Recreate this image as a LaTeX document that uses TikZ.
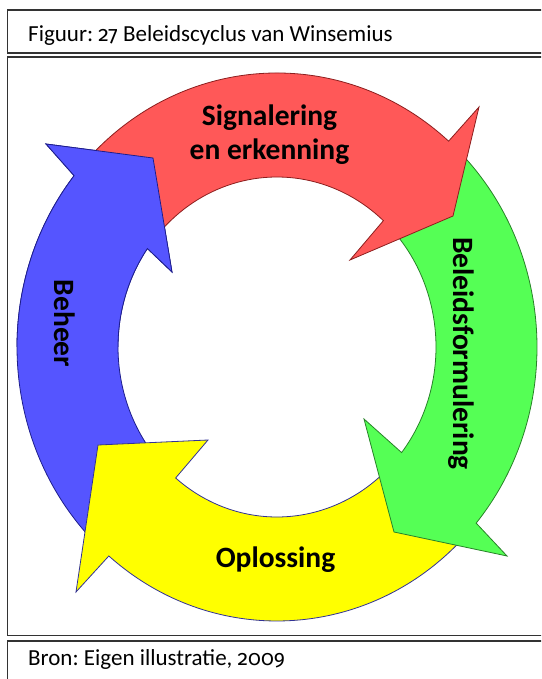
\documentclass[tikz,border=0pt]{standalone}
\usepackage{fontspec}
\setmainfont{Carlito}
\newfontfamily\figs{Fira Sans}[Numbers=OldStyle, Scale=0.92]
\newcommand\ofig[1]{{\figs #1}}
\definecolor{sigfill}{RGB}{255,88,88}
\definecolor{sigline}{RGB}{140,30,30}
\definecolor{belfill}{RGB}{85,255,85}
\definecolor{belline}{RGB}{40,130,40}
\definecolor{oplfill}{RGB}{255,255,0}
\definecolor{oplline}{RGB}{50,50,150}
\definecolor{behfill}{RGB}{85,85,255}
\definecolor{behline}{RGB}{30,30,140}
\begin{document}
\frenchspacing
\begin{tikzpicture}[x=1pt,y=1pt,
  ring/.style={line width=0.8pt, line join=miter},
  frame/.style={draw=black!80, line width=1.6pt},
  caption/.style={font=\fontsize{23}{27}\selectfont, anchor=base west, inner sep=0pt},
  stage/.style={font=\fontsize{29.5}{34}\selectfont\bfseries, inner sep=0pt, text=black},
]
% page area, origin at the centre of the ring
\useasboundingbox (-277,-332) rectangle (264,347);
\clip (-277,-332) rectangle (264,347);

% outer ellipse 260 x 274, inner ellipse 159 x 170
\def\sigpath{(140:260pt and 274pt) arc[start angle=140, end angle=48.7, x radius=260pt, y radius=274pt]
  -- (202,240) -- (176,131) -- (73,87)
  -- (48:159pt and 170pt) arc[start angle=48, end angle=140, x radius=159pt, y radius=170pt] -- cycle}
\def\belpath{(47.5:260pt and 274pt) arc[start angle=47.5, end angle=-40, x radius=260pt, y radius=274pt]
  -- (230,-209) -- (117,-185) -- (87,-72)
  -- (-38.4:159pt and 170pt) arc[start angle=-38.4, end angle=47.5, x radius=159pt, y radius=170pt] -- cycle}
\def\oplpath{(-41.3:260pt and 274pt) arc[start angle=-41.3, end angle=-130.3, x radius=260pt, y radius=274pt]
  -- (-201,-245) -- (-179,-98) -- (-69,-93)
  -- (-129.6:159pt and 170pt) arc[start angle=-129.6, end angle=-41.3, x radius=159pt, y radius=170pt] -- cycle}
\def\behpath{(228.4:260pt and 274pt) arc[start angle=228.4, end angle=141.3, x radius=260pt, y radius=274pt]
  -- (-231,203) -- (-124,189) -- (-105,75)
  -- (144.6:159pt and 170pt) arc[start angle=144.6, end angle=228.4, x radius=159pt, y radius=170pt] -- cycle}

% each head lies on top of the next tail
\filldraw[ring, fill=behfill, draw=behline] \behpath;
\filldraw[ring, fill=oplfill, draw=oplline] \oplpath;
\filldraw[ring, fill=belfill, draw=belline] \belpath;
\filldraw[ring, fill=sigfill, draw=sigline] \sigpath;
% the blue head closes the cycle over the red tail
\begin{scope}
  \clip (-300,0) rectangle (0,300);
  \filldraw[ring, fill=behfill, draw=behline] \behpath;
\end{scope}

% stage labels
\node[stage, align=center] (sig) at (-7.5,212) {Signalering\\en erkenning};
\node[stage, rotate=-90, anchor=base] (bel) at (176,-6.5) {Beleidsformulering};
\node[stage, anchor=base] (opl) at (-1.5,-220) {Oplossing};
\node[stage, rotate=-90, anchor=base] (beh) at (-222,23.5) {Beheer};

% table frame with caption and source
\draw[frame] (-269.5,293.7) rectangle (290,337);
\draw[frame] (-269.5,-288.5) rectangle (290,289.7);
\draw[frame] (-269.5,-360) rectangle (290,-294);
\node[caption] (title) at (-249,305.3) {Figuur: \ofig{27} Beleidscyclus van Winsemius};
\node[caption] (source) at (-249,-318) {Bron: Eigen illustratie, \ofig{2009}};
\end{tikzpicture}
\end{document}
